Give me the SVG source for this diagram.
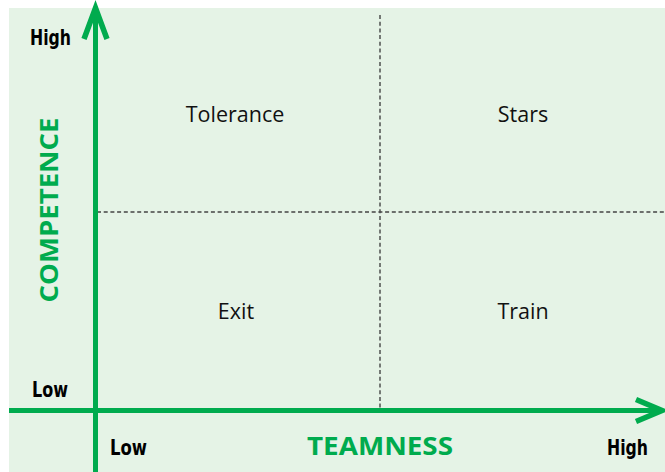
<svg xmlns="http://www.w3.org/2000/svg" width="665" height="472" viewBox="0 0 665 472">
<style>
.axis{stroke:#00AB4E;stroke-width:5;fill:none}
.head{stroke:#00AB4E;stroke-width:5.5;fill:none;stroke-linejoin:miter;stroke-miterlimit:10}
.dash{stroke:#444;stroke-width:1.4;stroke-dasharray:4 2.7;fill:none}
.q{font-family:"Open Sans","Noto Sans",sans-serif;font-size:21.5px;fill:#111;text-anchor:middle}
.t{font-family:"Open Sans","Noto Sans",sans-serif;font-weight:bold;font-size:25px;fill:#00AB4E;text-anchor:middle}
.s{font-family:"DejaVu Sans Condensed","DejaVu Sans",sans-serif;font-stretch:condensed;font-weight:bold;font-size:22px;fill:#000}
</style>
<rect x="9" y="8" width="656" height="464" fill="#E5F3E6"/>
<g id="connectors">
<line class="dash" x1="380" y1="15" x2="380" y2="410"/>
<line class="dash" x1="97" y1="212" x2="665" y2="212"/>
<line class="axis" x1="95.5" y1="9" x2="95.5" y2="472"/>
<polyline class="head" points="84,39 95.5,8 107,39"/>
<line class="axis" x1="9" y1="410.5" x2="661" y2="410.5"/>
<polyline class="head" points="636,399.5 662,410.5 636,421.5"/>
</g>
<g id="tolerance"><text class="q" x="235" y="122">Tolerance</text></g>
<g id="stars"><text class="q" x="523" y="122">Stars</text></g>
<g id="exit"><text class="q" x="236" y="319">Exit</text></g>
<g id="train"><text class="q" x="523" y="319">Train</text></g>
<g id="y-label"><text class="t" transform="translate(58,210) rotate(-90)" textLength="185" lengthAdjust="spacingAndGlyphs">COMPETENCE</text></g>
<g id="x-label"><text class="t" x="380" y="455" textLength="146" lengthAdjust="spacingAndGlyphs">TEAMNESS</text></g>
<g id="y-high"><text class="s" x="30" y="45" textLength="41" lengthAdjust="spacingAndGlyphs">High</text></g>
<g id="y-low"><text class="s" x="32" y="397" textLength="36" lengthAdjust="spacingAndGlyphs">Low</text></g>
<g id="x-low"><text class="s" x="110" y="455" textLength="37" lengthAdjust="spacingAndGlyphs">Low</text></g>
<g id="x-high"><text class="s" x="607" y="455" textLength="41" lengthAdjust="spacingAndGlyphs">High</text></g>
</svg>
